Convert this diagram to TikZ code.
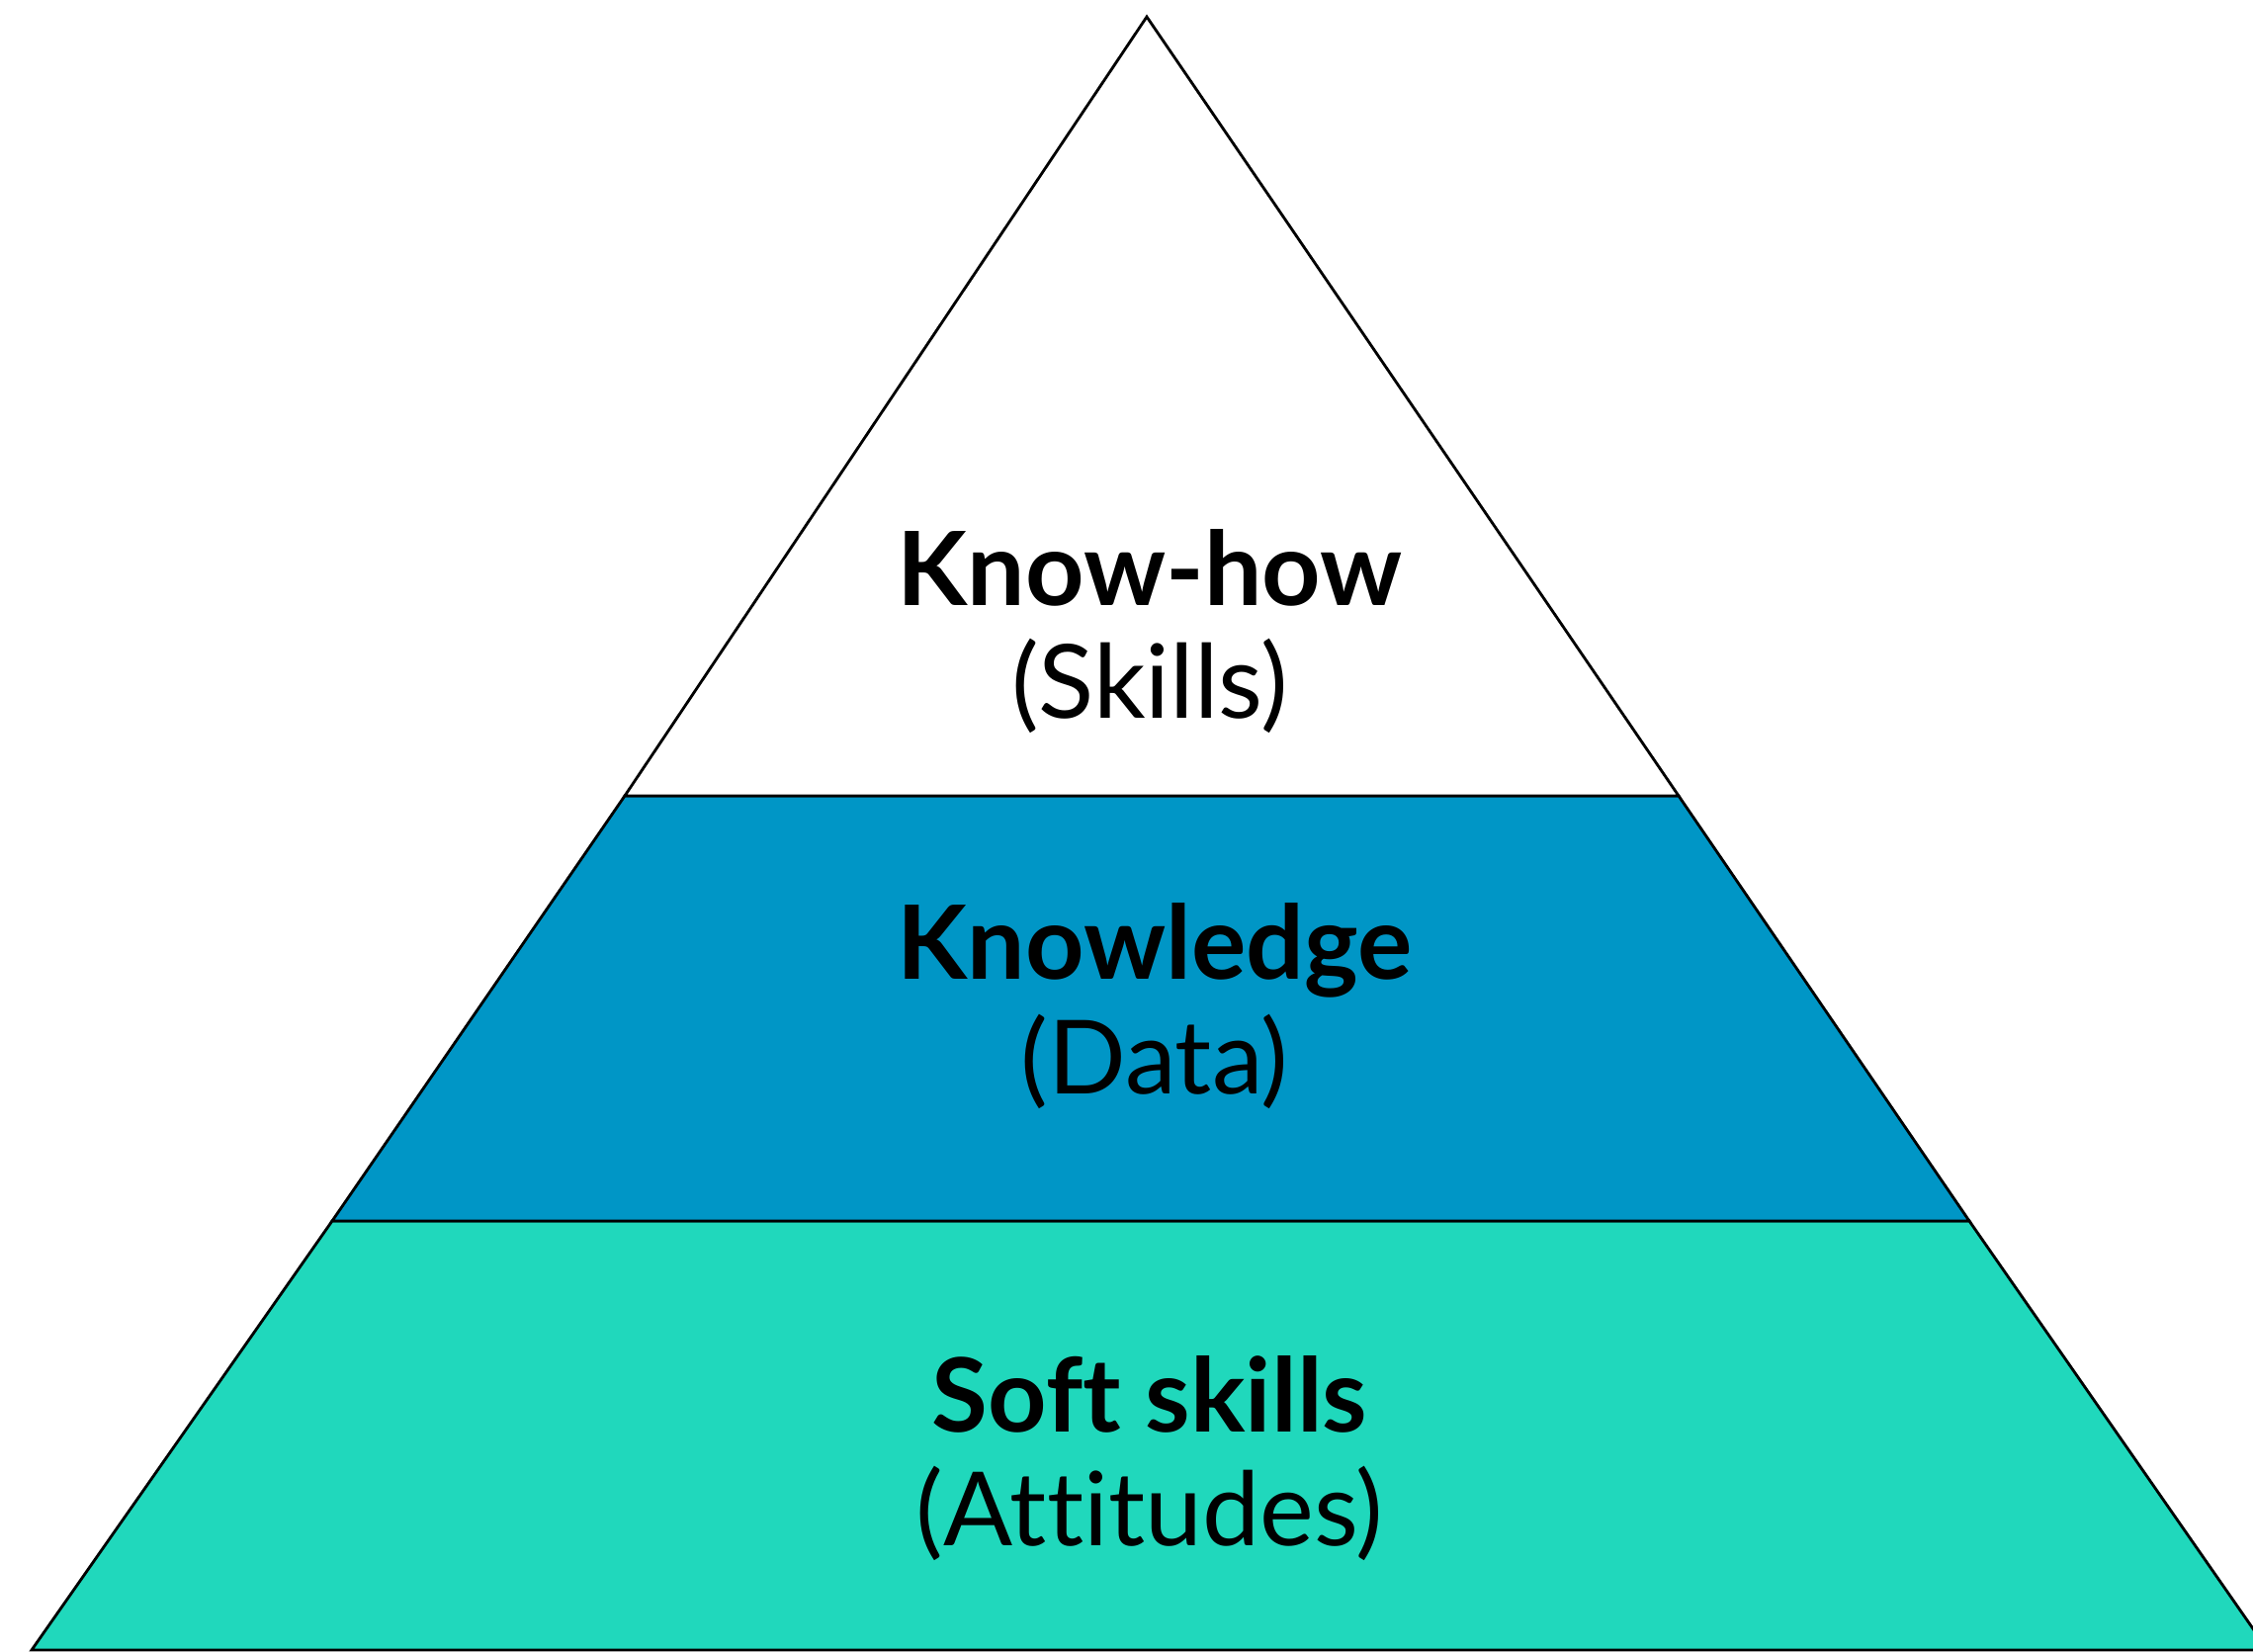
\documentclass[tikz,border=0pt]{standalone}
\usepackage{fontspec}
\setmainfont[Ligatures=NoCommon]{Lato}
\usepackage{xcolor}
\usepackage{tikz}
\definecolor{tierblue}{RGB}{0,150,198}
\definecolor{tierteal}{RGB}{32,216,188}

\begin{document}
\begin{tikzpicture}
    \useasboundingbox (0,0) rectangle (22.79,16.71);
    \clip (0,0) rectangle (22.79,16.71);

    % Bottom tier
    \draw[line width=0.8pt, fill=tierteal] (0.32,0.02) -- (22.94,0.02) -- (19.92,4.36) -- (3.36,4.36) -- cycle;
    \node[anchor=base, font=\fontsize{29.5}{35}\selectfont\bfseries] (softtitle) at (11.63,2.22) {Soft skills};
    \node[anchor=base, font=\fontsize{29.5}{35}\selectfont] (softsub) at (11.63,1.07) {(Attitudes)};

    % Middle tier
    \draw[line width=0.8pt, fill=tierblue] (3.36,4.36) -- (19.92,4.36) -- (16.98,8.66) -- (6.32,8.66) -- cycle;
    \node[anchor=base, font=\fontsize{29.5}{35}\selectfont\bfseries] (knowtitle) at (11.68,6.80) {Knowledge};
    \node[anchor=base, font=\fontsize{29.5}{35}\selectfont] (knowsub) at (11.68,5.64) {(Data)};

    % Top tier
    \draw[line width=0.8pt, fill=white] (6.32,8.66) -- (16.98,8.66) -- (11.60,16.54) -- cycle;
    \node[anchor=base, font=\fontsize{29.5}{35}\selectfont\bfseries] (howtitle) at (11.63,10.58) {Know-how};
    \node[anchor=base, font=\fontsize{29.5}{35}\selectfont] (howsub) at (11.63,9.44) {(Skills)};
\end{tikzpicture}
\end{document}
